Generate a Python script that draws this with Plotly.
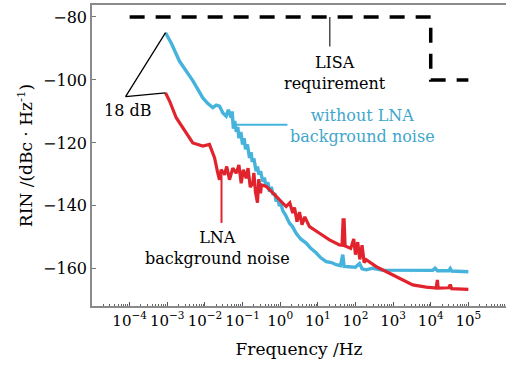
import plotly.graph_objects as go

# ---- data ----
blue_f = [9e-4, 1.3e-3, 2.1e-3, 3.2e-3, 4.8e-3, 6.5e-3, 8.8e-3, 0.012, 0.0162, 0.02, 0.0244, 0.03,
          0.0367, 0.042, 0.05, 0.053, 0.057, 0.062, 0.068, 0.075, 0.08, 0.09, 0.1, 0.11, 0.12, 0.135,
          0.153, 0.17, 0.18, 0.2, 0.23, 0.25, 0.27, 0.3, 0.345, 0.38, 0.42, 0.47, 0.52, 0.58, 0.65,
          0.72, 0.78, 0.86, 0.95, 1.05, 1.17, 1.4, 1.77, 2.1, 2.66, 3.5, 4.9, 6.5, 9.0, 12, 16.7, 23,
          30.7, 40, 46, 50, 69, 100, 128, 150, 193, 289, 500, 1476, 5000, 11300, 13000, 15000, 30000,
          33000, 36000, 100000]
blue_v = [-85.0, -88.5, -94.0, -97.0, -100.3, -103.0, -105.7, -107.5, -108.8, -108.0, -108.3, -110.5,
          -111.5, -109.5, -112.0, -110.0, -115.5, -113.0, -116.5, -115.0, -118.5, -116.5, -120.5, -118.5, -122.0, -120.5,
          -124.8, -123.0, -126.0, -125.0, -129.0, -127.5, -130.0, -129.0, -132.3, -131.0, -133.8, -132.5, -135.5, -134.0, -136.5,
          -136.0, -138.6, -137.5, -140.0, -139.5, -141.5, -143.0, -145.5, -146.5, -148.7, -150.5, -151.8, -153.5, -154.9, -156.5, -157.7, -158.0,
          -158.7, -159.0, -155.5, -159.2, -159.3, -159.5, -158.3, -160.0, -160.3, -159.8, -160.4, -160.5, -160.6, -160.5, -159.8, -160.6, -160.6,
          -159.9, -160.7, -160.9]

red_f = [9e-4, 1.15e-3, 1.73e-3, 2.58e-3, 3.5e-3, 4.76e-3, 6.5e-3, 8.8e-3, 0.0132, 0.018, 0.022, 0.0244,
         0.027, 0.0331, 0.038, 0.045, 0.055, 0.0678, 0.08, 0.092, 0.105, 0.125, 0.14, 0.16, 0.187, 0.2,
         0.22, 0.249, 0.27, 0.3, 0.318, 0.425, 0.636, 0.957, 1.44, 1.8, 2.16, 2.4, 2.8, 3.26, 3.8, 4.5,
         6.0, 11.1, 20.4, 37.6, 44, 47, 50, 53, 56.7, 75, 90, 100, 115, 130, 150, 170, 193, 355, 801,
         1476, 3330, 7570, 13950, 15000, 15800, 30000, 33000, 36000, 100000]
red_v = [-104.1, -106.7, -112.0, -115.2, -117.5, -120.0, -120.5, -121.0, -120.5, -124.7, -129.6, -131.7,
         -128.5, -130.1, -127.5, -131.7, -128.0, -129.6, -127.0, -132.8, -128.5, -131.2, -128.0, -134.0, -132.8, -129.5,
         -135.5, -139.0, -131.5, -136.0, -133.3, -133.8, -135.9, -138.1, -140.2, -139.0, -142.3, -140.5, -145.0, -142.0, -146.0, -143.5,
         -146.6, -148.7, -150.8, -152.4, -152.5, -144.4, -144.4, -152.7, -152.9, -153.5, -150.5, -155.5, -151.5, -157.0, -152.5, -158.0, -157.1, -159.3, -161.4,
         -163.0, -165.1, -165.8, -166.1, -163.5, -166.1, -166.0, -165.0, -166.3, -166.5]

lisa_f = [1e-4, 1e4, 1e4, 1e5]
lisa_v = [-80, -80, -100, -100]

# pointer lines
db_f = [9e-4, 7.8e-5, 9e-4]
db_v = [-85.0, -105.3, -104.1]
lisa_ptr_f = [20.8, 20.8]
lisa_ptr_v = [-80, -89.4]
blue_ptr_f = [0.065, 1.56]
blue_ptr_v = [-114.2, -114.2]
red_ptr_f = [0.0276, 0.0276]
red_ptr_v = [-130.1, -145.4]

xtick_vals = [1e-4, 1e-3, 1e-2, 1e-1, 1, 10, 100, 1e3, 1e4, 1e5]
xtick_text = ["10<sup>−4</sup>", "10<sup>−3</sup>", "10<sup>−2</sup>", "10<sup>−1</sup>", "10<sup>0</sup>",
              "10<sup>1</sup>", "10<sup>2</sup>", "10<sup>3</sup>", "10<sup>4</sup>", "10<sup>5</sup>"]
ytick_vals = [-160, -140, -120, -100, -80]

BLUE = "#45b3dc"
BLUE_TXT = "#3fa6cc"
RED = "#e0232c"
FONT = "DejaVu Serif"

fig = go.Figure()
fig.add_trace(go.Scatter(x=lisa_f, y=lisa_v, mode="lines",
                         line=dict(color="black", width=3.5, dash="15px,11px")))
fig.add_trace(go.Scatter(x=blue_f, y=blue_v, mode="lines", line=dict(color=BLUE, width=3.4)))
fig.add_trace(go.Scatter(x=red_f, y=red_v, mode="lines", line=dict(color=RED, width=3.2)))
fig.add_trace(go.Scatter(x=db_f, y=db_v, mode="lines", line=dict(color="black", width=1.3)))
fig.add_trace(go.Scatter(x=lisa_ptr_f, y=lisa_ptr_v, mode="lines", line=dict(color="#333333", width=1.3)))
fig.add_trace(go.Scatter(x=blue_ptr_f, y=blue_ptr_v, mode="lines", line=dict(color=BLUE, width=2)))
fig.add_trace(go.Scatter(x=red_ptr_f, y=red_ptr_v, mode="lines", line=dict(color=RED, width=2)))

minor_vals = [m * 10.0 ** e for e in range(-5, 6) for m in range(2, 10)]

fig.update_xaxes(type="log", range=[-5, 6], showgrid=False, zeroline=False,
                 showline=True, linecolor="#8a8a8a", linewidth=1.5, mirror=True,
                 ticks="inside", ticklen=4, tickcolor="#555555", tickwidth=1,
                 tickmode="array", tickvals=xtick_vals, ticktext=xtick_text, tickangle=0,
                 minor=dict(ticks="inside", ticklen=2, tickcolor="#666666", tickmode="array", tickvals=minor_vals),
                 tickfont=dict(family=FONT, size=15, color="black"),
                 title=dict(text="Frequency /Hz", font=dict(family=FONT, size=17, color="black"), standoff=14))
fig.update_yaxes(range=[-171.8, -76.2], showgrid=False, zeroline=False,
                 showline=True, linecolor="#8a8a8a", linewidth=1.5, mirror=False,
                 ticks="inside", ticklen=4, tickcolor="#777777", tickwidth=1,
                 tickmode="array", tickvals=ytick_vals,
                 tickfont=dict(family=FONT, size=16, color="black"),
                 title=dict(text="RIN /(dBc · Hz<sup>-1</sup>)", font=dict(family=FONT, size=17, color="black"), standoff=6))

ann_font = dict(family=FONT, size=16, color="black")
fig.add_annotation(x=-4.06, y=-109.8, text="18 dB", showarrow=False, font=ann_font)
fig.add_annotation(x=1.45, y=-97.7, text="LISA<br>requirement", showarrow=False, font=ann_font)
fig.add_annotation(x=2.19, y=-114.6, text="without LNA<br>background noise", showarrow=False,
                   font=dict(family=FONT, size=16, color=BLUE_TXT))
fig.add_annotation(x=-1.67, y=-153.5, text="LNA<br>background noise", showarrow=False, font=ann_font)

fig.update_layout(width=506, height=366, margin=dict(l=92, r=0, t=5, b=60),
                  paper_bgcolor="white", plot_bgcolor="white", showlegend=False)

fig.write_html("out.html")
